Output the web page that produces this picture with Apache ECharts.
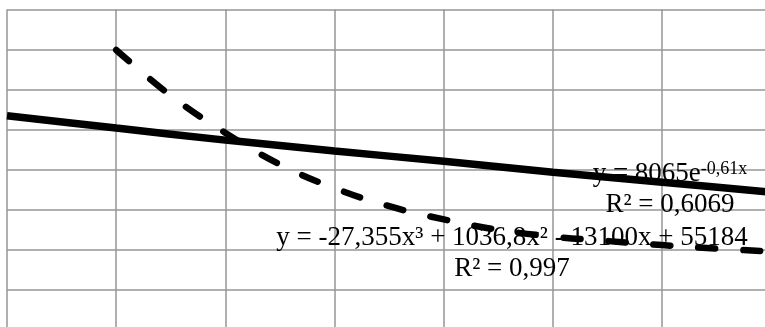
<!DOCTYPE html>
<html>
<head>
<meta charset="utf-8">
<script src="https://cdn.jsdelivr.net/npm/echarts@6/dist/echarts.min.js"></script>
<style>
html,body{margin:0;padding:0;background:#fff;overflow:hidden;}
#wrap{width:765px;height:327px;overflow:hidden;position:relative;}
#chart{width:772px;height:331px;position:absolute;left:0;top:0;}
</style>
</head>
<body>
<div id="wrap"><div id="chart"></div></div>
<script>
// Polynomial series (dashed) — x positions and values
var xPoly = [1, 1.5, 2, 2.5, 3, 3.5, 4, 4.5, 5, 5.5, 6, 6.5, 7];
var yPoly = [6.99, 5.85, 4.92, 4.13, 3.54, 3.09, 2.76, 2.50, 2.33, 2.22, 2.12, 2.03, 1.96];
// Exponential series (solid)
var xExp = [0, 1, 2, 3, 4, 5, 6, 7];
var yExp = [5.35, 5.04, 4.74, 4.47, 4.21, 3.94, 3.69, 3.44];
// Trendline labels
var polyEq = 'y = -27,355x³ + 1036,8x² - 13100x + 55184';
var polyR2 = 'R² = 0,997';
var expEqMain = 'y = 8065e';
var expEqSup = '-0,61x';
var expR2 = 'R² = 0,6069';

function pairs(xs, ys) { return xs.map(function (x, i) { return [x, ys[i]]; }); }

var FONT = '"Liberation Serif", "Times New Roman", serif';
var chart = echarts.init(document.getElementById('chart'), null, {renderer: 'canvas', width: 772, height: 331});
chart.setOption({
  animation: false,
  backgroundColor: '#ffffff',
  grid: {left: 7, top: 9.5, width: 764.4, height: 320.5, containLabel: false},
  xAxis: {
    type: 'value', min: 0, max: 7, interval: 1,
    axisLine: {show: false}, axisTick: {show: false}, axisLabel: {show: false},
    splitLine: {show: true, lineStyle: {color: '#969696', width: 1.5}}
  },
  yAxis: {
    type: 'value', min: 0, max: 8, interval: 1,
    axisLine: {show: false}, axisTick: {show: false}, axisLabel: {show: false},
    splitLine: {show: true, lineStyle: {color: '#969696', width: 1.5}}
  },
  graphic: [
    {type: 'text', z: 1, x: 512, y: 238, style: {text: polyEq, font: '27px ' + FONT, fill: '#000', align: 'center', verticalAlign: 'middle'}},
    {type: 'text', z: 1, x: 512, y: 269, style: {text: polyR2, font: '27px ' + FONT, fill: '#000', align: 'center', verticalAlign: 'middle'}},
    {type: 'text', z: 1, x: 670, y: 174, style: {
      text: '{a|' + expEqMain + '}{s|' + expEqSup + '}', align: 'center', verticalAlign: 'middle',
      rich: {
        a: {fontSize: 27, fontFamily: FONT, fill: '#000', lineHeight: 27},
        s: {fontSize: 18, fontFamily: FONT, fill: '#000', lineHeight: 18, verticalAlign: 'top'}
      }}},
    {type: 'text', z: 1, x: 670, y: 205, style: {text: expR2, font: '27px ' + FONT, fill: '#000', align: 'center', verticalAlign: 'middle'}}
  ],
  series: [
    {
      type: 'line', data: pairs(xExp, yExp), symbol: 'none', smooth: 0.3, z: 5,
      lineStyle: {color: '#000', width: 7.5, type: 'solid'}
    },
    {
      type: 'line', data: pairs(xPoly, yPoly), symbol: 'none', smooth: 0.4, z: 6,
      lineStyle: {color: '#000', width: 6.5, type: [17, 28], cap: 'round', join: 'round'}
    }
  ]
});
</script>
</body>
</html>
